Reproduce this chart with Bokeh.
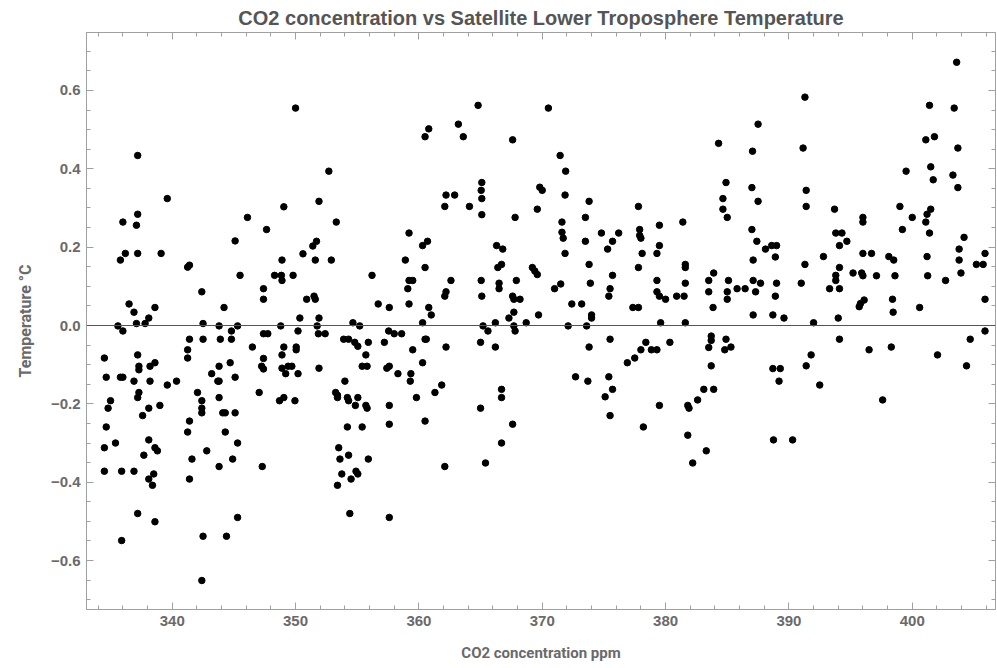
from bokeh.plotting import figure
from bokeh.models import FixedTicker, LinearAxis, Range1d, Span, CustomJSTickFormatter
from bokeh.embed import file_html
from bokeh.resources import INLINE

TITLE = "CO2 concentration vs Satellite Lower Troposphere Temperature"
X_LABEL = "CO2 concentration ppm"
Y_LABEL = "Temperature \u00b0C"

x_major = [340, 350, 360, 370, 380, 390, 400]
x_minor = [334, 336, 338, 342, 344, 346, 348, 352, 354, 356, 358, 362, 364, 366, 368,
           372, 374, 376, 378, 382, 384, 386, 388, 392, 394, 396, 398, 402, 404, 406]
y_major = [-0.6, -0.4, -0.2, 0.0, 0.2, 0.4, 0.6]
y_minor = [-0.7, -0.65, -0.55, -0.5, -0.45, -0.35, -0.3, -0.25, -0.15, -0.1, -0.05,
           0.05, 0.1, 0.15, 0.25, 0.3, 0.35, 0.45, 0.5, 0.55, 0.65, 0.7]

# CO2 (ppm) and temperature anomaly (deg C), grouped by CO2 band
co2_a = [337.2, 339.6, 346.1, 336.0, 337.2, 337.1, 345.1, 336.2, 335.8, 337.2, 339.1, 341.25, 341.4, 345.5,
         342.4, 336.5, 336.9, 337.1, 338.1, 337.8, 338.6, 335.6, 336.0, 342.5, 344.2, 343.8, 344.8, 345.3,
         341.4, 342.5, 343.9, 344.8, 341.25, 341.25, 334.5, 337.2, 337.3, 337.3, 338.2, 338.6, 344.7, 343.8,
         334.65, 335.8, 336.0, 336.9, 338.2, 339.6, 340.35, 343.2, 343.7, 343.8, 345.1, 342.05, 337.3, 337.2,
         335.0, 334.8, 342.4, 342.4, 342.4, 343.8, 344.1, 344.3, 345.1, 339.0, 338.1, 337.6, 341.4, 341.25,
         334.65, 344.3, 335.4, 334.5, 338.1, 338.6, 338.8, 337.7, 342.8, 341.6, 345.3, 344.9, 343.8, 334.5,
         335.9, 336.9, 338.5, 338.1, 338.4, 341.4, 337.2, 338.6, 345.3, 335.9, 342.5, 344.4, 342.4]
temp_a = [0.434, 0.324, 0.276, 0.264, 0.284, 0.256, 0.216, 0.184, 0.167, 0.184, 0.184, 0.149, 0.154, 0.128,
          0.086, 0.055, 0.034, 0.005, 0.019, 0.005, 0.046, -0.001, -0.014, 0.005, 0.046, -0.001, -0.014, -0.001,
          -0.035, -0.035, -0.035, -0.035, -0.062, -0.083, -0.083, -0.075, -0.104, -0.113, -0.104, -0.095, -0.095, -0.104,
          -0.132, -0.132, -0.132, -0.142, -0.142, -0.152, -0.142, -0.123, -0.142, -0.142, -0.132, -0.171, -0.171, -0.184,
          -0.192, -0.211, -0.192, -0.211, -0.223, -0.184, -0.223, -0.223, -0.223, -0.204, -0.211, -0.230, -0.244, -0.272,
          -0.259, -0.272, -0.300, -0.312, -0.292, -0.312, -0.320, -0.331, -0.320, -0.341, -0.300, -0.341, -0.360, -0.372,
          -0.372, -0.372, -0.379, -0.392, -0.408, -0.392, -0.480, -0.501, -0.490, -0.549, -0.538, -0.538, -0.651]

co2_b = [350.0, 352.7, 351.9, 349.05, 347.65, 353.3, 351.4, 351.7, 350.6, 348.9, 351.6, 352.9, 348.3, 348.85,
         348.9, 349.8, 356.2, 347.4, 347.4, 350.9, 351.5, 351.6, 356.7, 357.6, 350.35, 351.9, 348.8, 351.75,
         354.65, 355.2, 350.2, 347.4, 347.75, 351.85, 352.4, 357.55, 358.0, 358.6, 353.9, 354.3, 354.8, 355.05,
         355.9, 357.2, 346.5, 349.05, 350.05, 350.05, 348.9, 347.4, 355.7, 347.25, 347.4, 348.9, 349.2, 349.4,
         349.7, 350.2, 351.9, 355.4, 355.8, 357.4, 357.6, 358.3, 354.0, 347.05, 353.25, 353.4, 353.4, 348.7,
         349.05, 349.95, 354.2, 354.3, 355.05, 354.85, 355.7, 355.8, 357.6, 354.2, 355.4, 357.6, 353.5, 353.6,
         354.3, 355.9, 347.3, 353.75, 353.4, 354.5, 354.9, 355.05, 354.4, 357.6, 358.9]
temp_b = [0.555, 0.394, 0.317, 0.303, 0.245, 0.264, 0.203, 0.215, 0.183, 0.167, 0.167, 0.167, 0.128, 0.128,
          0.115, 0.128, 0.128, 0.094, 0.067, 0.067, 0.075, 0.067, 0.055, 0.046, 0.019, 0.019, -0.001, -0.001,
          0.007, -0.001, -0.014, -0.021, -0.021, -0.021, -0.021, -0.014, -0.021, -0.021, -0.035, -0.035, -0.043, -0.053,
          -0.043, -0.043, -0.055, -0.055, -0.055, -0.062, -0.075, -0.084, -0.075, -0.104, -0.111, -0.109, -0.123, -0.104,
          -0.104, -0.123, -0.109, -0.104, -0.104, -0.109, -0.104, -0.123, -0.142, -0.171, -0.171, -0.178, -0.184, -0.192,
          -0.184, -0.192, -0.184, -0.192, -0.184, -0.204, -0.204, -0.211, -0.204, -0.259, -0.259, -0.252, -0.312, -0.341,
          -0.331, -0.341, -0.360, -0.379, -0.408, -0.392, -0.372, -0.379, -0.480, -0.490, 0.167]

co2_c = [364.8, 370.5, 360.8, 360.5, 363.2, 363.6, 367.6, 371.45, 365.1, 365.05, 365.1, 365.1, 362.2, 362.9,
         362.1, 364.1, 369.8, 370.0, 369.6, 367.8, 359.2, 360.3, 360.7, 360.5, 366.3, 366.8, 366.4, 366.7,
         369.2, 369.4, 369.6, 359.2, 359.5, 359.1, 362.6, 362.2, 362.1, 365.05, 365.1, 366.5, 366.5, 367.9,
         367.6, 367.7, 368.2, 371.0, 359.2, 360.8, 361.0, 360.3, 367.7, 367.3, 369.7, 368.7, 366.2, 365.2,
         365.6, 367.7, 367.8, 360.5, 360.6, 365.0, 359.5, 362.2, 366.2, 360.3, 359.35, 359.3, 361.85, 361.3,
         359.8, 366.7, 366.7, 365.0, 360.5, 367.6, 366.7, 362.1, 365.4]
temp_c = [0.562, 0.555, 0.502, 0.482, 0.514, 0.482, 0.474, 0.434, 0.365, 0.345, 0.324, 0.283, 0.333, 0.333,
          0.304, 0.304, 0.353, 0.345, 0.297, 0.276, 0.236, 0.204, 0.215, 0.148, 0.204, 0.195, 0.148, 0.156,
          0.148, 0.139, 0.130, 0.115, 0.115, 0.094, 0.115, 0.086, 0.075, 0.115, 0.075, 0.108, 0.094, 0.115,
          0.075, 0.067, 0.067, 0.094, 0.055, 0.046, 0.027, 0.007, 0.034, 0.019, 0.027, 0.007, 0.007, -0.001,
          -0.014, -0.001, -0.014, -0.035, -0.035, -0.043, -0.062, -0.055, -0.055, -0.095, -0.123, -0.142, -0.152, -0.171,
          -0.184, -0.163, -0.184, -0.211, -0.244, -0.252, -0.300, -0.360, -0.351]

co2_d = [371.9, 371.85, 371.6, 371.6, 371.7, 371.85, 371.5, 372.4, 373.2, 372.1, 373.6, 374.0, 374.0, 373.8,
         373.5, 373.5, 373.8, 373.9, 374.8, 375.7, 375.3, 376.2, 375.7, 375.5, 375.4, 373.8, 375.5, 372.7,
         373.7, 375.4, 375.7, 375.1, 375.5, 377.8, 377.9, 377.9, 378.0, 378.1, 377.8, 377.35, 377.8, 379.5,
         379.5, 379.3, 379.3, 379.3, 379.5, 380.0, 379.6, 380.9, 381.4, 381.6, 381.6, 381.6, 381.5, 381.6,
         383.5, 383.5, 383.85, 383.9, 376.9, 377.5, 378.0, 378.4, 378.85, 379.3, 380.35, 379.5, 378.2, 381.8,
         381.9, 381.8, 382.2, 382.6, 383.1, 383.3, 383.5, 383.7, 383.7, 383.7, 383.9]
temp_d = [0.394, 0.333, 0.264, 0.238, 0.223, 0.184, 0.106, 0.055, 0.055, -0.001, -0.001, 0.027, 0.019, 0.317,
          0.276, 0.215, 0.156, 0.108, 0.236, 0.215, 0.195, 0.236, 0.128, 0.094, 0.075, -0.055, -0.035, -0.131,
          -0.142, -0.131, -0.163, -0.182, -0.230, 0.304, 0.245, 0.230, 0.223, 0.184, 0.148, 0.046, 0.046, 0.256,
          0.204, 0.184, 0.115, 0.086, 0.075, 0.067, 0.007, 0.075, 0.264, 0.156, 0.148, 0.108, 0.075, 0.007,
          0.115, 0.086, 0.046, 0.134, -0.095, -0.083, -0.062, -0.043, -0.062, -0.062, -0.043, -0.204, -0.259, -0.204,
          -0.211, -0.280, -0.351, -0.190, -0.163, -0.320, -0.056, -0.027, -0.038, -0.103, -0.163]

co2_e = [391.3, 387.5, 384.3, 387.05, 391.15, 384.9, 384.65, 384.65, 385.0, 387.0, 387.5, 391.4, 391.4, 387.0,
         387.4, 388.1, 388.6, 389.0, 388.9, 387.1, 391.3, 392.8, 393.7, 393.8, 394.3, 394.7, 394.1, 396.0,
         396.0, 396.0, 385.1, 385.0, 385.0, 385.8, 386.45, 387.1, 387.3, 387.7, 389.0, 388.9, 387.1, 388.7,
         389.6, 391.0, 392.0, 393.3, 393.8, 393.8, 394.1, 394.1, 395.2, 395.9, 396.0, 395.7, 395.8, 396.1,
         394.0, 394.1, 384.9, 384.8, 385.3, 388.7, 389.3, 389.2, 391.8, 391.4, 392.5, 396.5, 388.75, 390.3]
temp_e = [0.583, 0.514, 0.465, 0.445, 0.453, 0.365, 0.324, 0.297, 0.276, 0.352, 0.317, 0.345, 0.304, 0.245,
          0.215, 0.195, 0.204, 0.204, 0.175, 0.167, 0.156, 0.176, 0.297, 0.236, 0.236, 0.215, 0.204, 0.276,
          0.264, 0.184, 0.115, 0.086, 0.067, 0.094, 0.094, 0.115, 0.086, 0.108, 0.108, 0.075, 0.027, 0.027,
          0.019, 0.108, 0.007, 0.094, 0.128, 0.115, 0.148, 0.094, 0.134, 0.134, 0.127, 0.048, 0.056, 0.065,
          0.019, -0.035, -0.035, -0.062, -0.055, -0.110, -0.110, -0.142, -0.075, -0.103, -0.152, -0.062, -0.292, -0.292]

co2_f = [403.6, 401.4, 403.4, 401.1, 401.8, 403.7, 401.5, 401.7, 399.5, 403.3, 403.7, 399.0, 400.0, 399.2,
         401.2, 401.5, 401.1, 401.4, 404.2, 403.8, 403.8, 403.95, 396.7, 398.1, 398.5, 401.2, 397.1, 398.6,
         401.25, 402.7, 405.2, 405.75, 405.9, 398.4, 398.45, 400.6, 405.9, 405.9, 404.7, 398.3, 402.05, 404.4,
         397.6]
temp_f = [0.672, 0.562, 0.555, 0.474, 0.482, 0.453, 0.405, 0.372, 0.394, 0.384, 0.352, 0.304, 0.276, 0.245,
          0.284, 0.297, 0.264, 0.236, 0.225, 0.195, 0.167, 0.134, 0.184, 0.176, 0.167, 0.176, 0.127, 0.127,
          0.127, 0.115, 0.156, 0.156, 0.184, 0.067, 0.034, 0.046, 0.067, -0.014, -0.035, -0.055, -0.075, -0.103,
          -0.190]

co2 = co2_a + co2_b + co2_c + co2_d + co2_e + co2_f
temp = temp_a + temp_b + temp_c + temp_d + temp_e + temp_f

FRAME = "#a0a0a0"
LABEL = "#6a6a6a"

p = figure(width=997, height=668, output_backend="svg", toolbar_location=None,
           x_range=Range1d(333.05, 406.75), y_range=Range1d(-0.725, 0.748),
           min_border_left=86, min_border_right=2, min_border_top=32, min_border_bottom=59,
           background_fill_color="white", border_fill_color="white")

p.title.text = TITLE
p.title.align = "center"
p.title.text_font = "Liberation Sans"
p.title.text_font_style = "bold"
p.title.text_font_size = "20px"
p.title.text_color = "#555555"
p.title.standoff = 7

p.xgrid.visible = False
p.ygrid.visible = False
p.outline_line_color = FRAME
p.outline_line_width = 1

xt = FixedTicker(ticks=x_major, minor_ticks=x_minor)
yt = FixedTicker(ticks=y_major, minor_ticks=y_minor)
yfmt = CustomJSTickFormatter(code="return (tick < -1e-9 ? '\u2212' : '') + Math.abs(tick).toFixed(1);")
blank = CustomJSTickFormatter(code="return '';")


def style(ax, show_labels):
    ax.axis_line_color = FRAME
    ax.major_tick_line_color = FRAME
    ax.minor_tick_line_color = FRAME
    ax.major_tick_in = 7
    ax.major_tick_out = 0
    ax.minor_tick_in = 4
    ax.minor_tick_out = 0
    if show_labels:
        ax.major_label_text_font = "Liberation Sans"
        ax.major_label_text_font_style = "bold"
        ax.major_label_text_font_size = "15px"
        ax.major_label_text_color = LABEL
        ax.axis_label_text_font = "Roboto"
        ax.axis_label_text_font_style = "bold"
        ax.axis_label_text_font_size = "15px"
        ax.axis_label_text_color = LABEL
    else:
        ax.formatter = blank
        ax.major_label_standoff = 0


xa = p.xaxis[0]
xa.ticker = xt
xa.axis_label = X_LABEL
style(xa, True)
xa.major_label_standoff = 6
xa.axis_label_standoff = 15

ya = p.yaxis[0]
ya.ticker = yt
ya.formatter = yfmt
ya.axis_label = Y_LABEL
style(ya, True)
ya.axis_label_text_font_size = "16px"
ya.major_label_standoff = 6
ya.axis_label_standoff = 13

top = LinearAxis(ticker=xt)
style(top, False)
p.add_layout(top, "above")
right = LinearAxis(ticker=yt)
style(right, False)
p.add_layout(right, "right")

p.add_layout(Span(location=0, dimension="width", line_color="#555555", line_width=1))

p.scatter(co2, temp, size=6.5, marker="circle", fill_color="black", line_color="black")

open("out.html", "w").write(file_html(p, INLINE))
